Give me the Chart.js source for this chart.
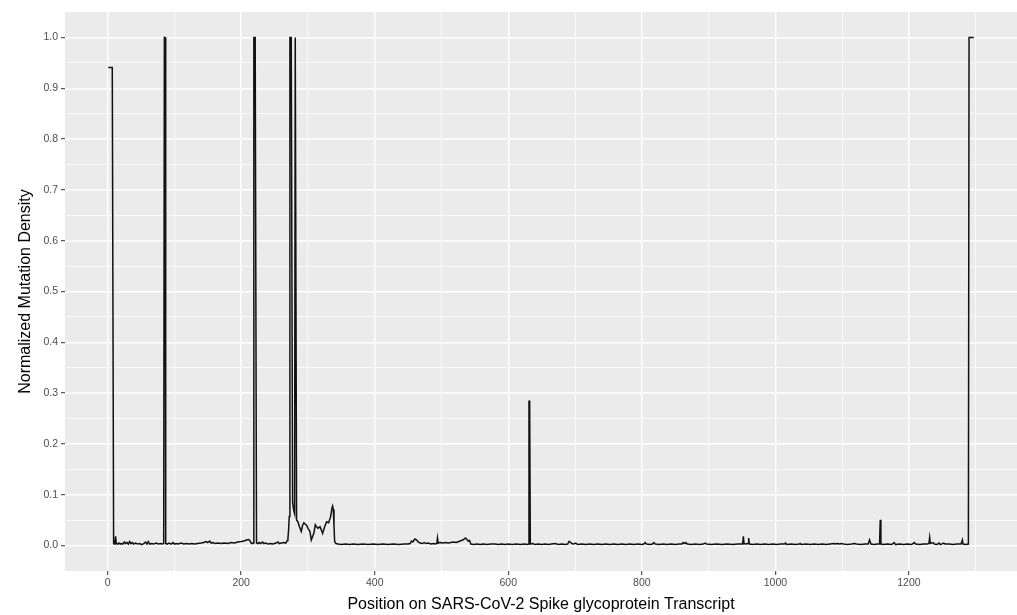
<!DOCTYPE html>
<html>
<head>
<meta charset="utf-8">
<script src="https://cdn.jsdelivr.net/npm/chart.js@4.4.1/dist/chart.umd.min.js"></script>
<style>
  html, body { margin: 0; padding: 0; background: #ffffff; }
  #wrap { width: 1017px; height: 615px; position: relative; }
</style>
</head>
<body>
<div id="wrap"><canvas id="c" width="1017" height="615"></canvas></div>
<script>
// ---- Data ----
const positions = [
  1,2,3,4,5,6,7,8,
  9,10,11,12,13,15,17,19,21,23,25,27,29,31,33,35,37,39,42,45,48,51,54,57,59,61,63,66,69,73,76,79,82,84,
  85,86,
  87,89,92,95,98,100,103,106,110,114,118,122,126,130,135,140,144,147,150,153,155,158,161,165,170,175,180,185,190,195,200,204,208,211,213,215,217,218,
  219,220,221,222,
  223,225,227,229,232,234,237,240,244,248,252,255,257,260,264,267,269,270,271,272,
  273,274,275,276,
  277,278,279,280,
  281,282,
  283,285,287,290,292,294,296,298,300,303,305,307,309,311,313,315,318,320,322,325,328,331,334,336,337,338,339,340,342,
  345,350,356,362,368,375,382,390,398,405,412,420,428,436,444,450,
  453,455,457,460,463,465,468,471,474,477,480,484,488,491,493,494,495,498,502,506,510,514,518,522,526,530,533,536,538,540,542,544,
  548,553,558,563,568,574,580,585,590,595,600,606,612,618,624,629,630,
  631,632,
  633,636,640,645,650,655,660,665,670,675,680,685,689,691,693,695,698,701,704,
  710,716,722,728,734,740,746,752,758,764,770,776,782,788,794,800,803,805,807,812,816,818,820,
  826,832,838,844,850,856,860,862,864,866,868,874,880,886,892,895,897,904,912,920,928,936,944,
  950,951,952,953,956,959,960,961,966,972,978,984,990,996,1002,1008,1014,1015,1017,1024,1030,1036,1037,1039,
  1046,1052,1058,1064,1070,1076,1082,1088,1090,1093,1096,1099,1102,1108,1114,1119,1121,1128,1134,1139,1141,1143,
  1148,1153,1156,1157,1158,1162,1168,1174,1178,1180,1186,1192,1198,1204,1208,1210,1216,1222,1228,1230,1231,1232,
  1236,1238,1242,1245,1247,1252,1254,1260,1266,1272,1278,1280,1281,1285,1289,
  1290,1297
];
const density = [
  0.941,0.941,0.941,0.941,0.941,0.941,0.941,0.941,
  0.004,0.003,0.005,0.018,0.004,0.003,0.005,0.003,0.004,0.003,0.007,0.004,0.006,0.003,0.008,0.004,0.006,0.003,0.005,0.003,0.004,0.002,0.004,0.007,0.003,0.008,0.003,0.004,0.003,0.005,0.003,0.004,0.003,0.004,
  1.0,1.0,
  0.004,0.003,0.005,0.003,0.006,0.003,0.004,0.003,0.005,0.003,0.004,0.003,0.004,0.003,0.004,0.005,0.006,0.008,0.006,0.009,0.005,0.006,0.004,0.005,0.004,0.005,0.004,0.006,0.005,0.007,0.008,0.009,0.011,0.012,0.010,0.005,0.004,0.005,
  1.0,1.0,1.0,1.0,
  0.005,0.004,0.006,0.004,0.007,0.004,0.005,0.003,0.004,0.003,0.005,0.007,0.004,0.005,0.006,0.005,0.010,0.013,0.030,0.057,
  1.0,1.0,1.0,1.0,
  0.085,0.075,0.068,0.063,
  1.0,1.0,
  0.050,0.047,0.038,0.028,0.040,0.045,0.042,0.040,0.034,0.028,0.011,0.018,0.025,0.041,0.037,0.034,0.037,0.031,0.024,0.037,0.047,0.045,0.057,0.074,0.078,0.071,0.040,0.008,0.004,
  0.003,0.002,0.003,0.002,0.003,0.002,0.003,0.002,0.003,0.002,0.003,0.002,0.003,0.002,0.003,0.003,
  0.004,0.009,0.007,0.013,0.011,0.007,0.005,0.004,0.006,0.004,0.005,0.003,0.004,0.003,0.004,0.015,0.005,0.006,0.005,0.006,0.005,0.006,0.007,0.006,0.008,0.010,0.012,0.015,0.012,0.009,0.010,0.003,
  0.002,0.003,0.002,0.003,0.002,0.003,0.003,0.002,0.003,0.002,0.003,0.002,0.003,0.002,0.003,0.002,0.003,
  0.284,0.284,
  0.003,0.004,0.002,0.003,0.002,0.003,0.002,0.003,0.004,0.002,0.003,0.002,0.003,0.008,0.007,0.004,0.003,0.005,0.002,
  0.003,0.002,0.003,0.002,0.003,0.002,0.003,0.002,0.003,0.002,0.003,0.002,0.003,0.002,0.003,0.002,0.003,0.006,0.003,0.002,0.003,0.006,0.003,
  0.002,0.003,0.002,0.003,0.002,0.003,0.003,0.006,0.004,0.006,0.003,0.002,0.003,0.002,0.003,0.005,0.003,0.002,0.003,0.002,0.003,0.002,0.003,
  0.003,0.004,0.018,0.004,0.003,0.004,0.015,0.003,0.002,0.003,0.002,0.003,0.002,0.003,0.002,0.003,0.003,0.005,0.002,0.003,0.002,0.003,0.004,0.002,
  0.003,0.002,0.003,0.002,0.003,0.002,0.003,0.004,0.003,0.004,0.003,0.004,0.003,0.002,0.003,0.004,0.003,0.002,0.003,0.003,0.011,0.003,
  0.002,0.003,0.003,0.051,0.003,0.002,0.003,0.002,0.006,0.002,0.003,0.002,0.003,0.002,0.006,0.003,0.002,0.003,0.003,0.005,0.016,0.004,
  0.006,0.003,0.002,0.005,0.002,0.005,0.003,0.003,0.002,0.003,0.003,0.011,0.003,0.002,0.003,
  1.0,1.0
];
const xMajorTicks = [0, 200, 400, 600, 800, 1000, 1200];
const xMinorTicks = [100, 300, 500, 700, 900, 1100, 1300];
const yMajorTicks = [0, 0.1, 0.2, 0.3, 0.4, 0.5, 0.6, 0.7, 0.8, 0.9, 1.0];
const yMinorTicks = [0.05, 0.15, 0.25, 0.35, 0.45, 0.55, 0.65, 0.75, 0.85, 0.95];
const xTitle = 'Position on SARS-CoV-2 Spike glycoprotein Transcript';
const yTitle = 'Normalized Mutation Density';

const points = positions.map((p, i) => ({ x: p, y: density[i] }));

function isMajor(list, v) {
  return list.some(t => Math.abs(t - v) < 1e-9);
}

const panelBg = {
  id: 'panelBg',
  beforeDraw(chart) {
    const { ctx, chartArea: a } = chart;
    ctx.save();
    ctx.fillStyle = '#ffffff';
    ctx.fillRect(0, 0, chart.width, chart.height);
    ctx.fillStyle = '#EBEBEB';
    ctx.fillRect(a.left, a.top, a.right - a.left, a.bottom - a.top);
    ctx.restore();
  }
};

const tickFont = { family: '"Liberation Sans", Arial, sans-serif', size: 10.5 };
const titleFont = { family: '"Liberation Sans", Arial, sans-serif', size: 16 };

new Chart(document.getElementById('c'), {
  type: 'line',
  data: {
    datasets: [{
      data: points,
      borderColor: '#111111',
      borderWidth: 1.5,
      pointRadius: 0,
      tension: 0,
      fill: false
    }]
  },
  options: {
    responsive: false,
    animation: false,
    events: [],
    layout: { padding: { top: 12, right: 0, bottom: 0, left: 0 } },
    plugins: { legend: { display: false }, tooltip: { enabled: false } },
    scales: {
      x: {
        type: 'linear',
        min: -63.8,
        max: 1361.8,
        afterBuildTicks(scale) {
          scale.ticks = xMajorTicks.concat(xMinorTicks).sort((a, b) => a - b).map(v => ({ value: v }));
        },
        afterFit(scale) { scale.height = 44; },
        border: { display: false },
        grid: {
          color: '#ffffff',
          lineWidth: c => isMajor(xMajorTicks, c.tick.value) ? 1.4 : 0.7,
          tickColor: c => isMajor(xMajorTicks, c.tick.value) ? '#333333' : 'rgba(0,0,0,0)',
          tickWidth: 1,
          tickLength: 4,
          drawTicks: true
        },
        ticks: {
          autoSkip: false,
          maxRotation: 0,
          padding: 2,
          color: '#4D4D4D',
          font: tickFont,
          callback: v => isMajor(xMajorTicks, v) ? String(v) : ''
        },
        title: {
          display: true,
          text: xTitle,
          color: '#000000',
          font: Object.assign({ lineHeight: 1.2 }, titleFont),
          padding: { top: 0, bottom: 0.5 }
        }
      },
      y: {
        type: 'linear',
        min: -0.05,
        max: 1.05,
        afterBuildTicks(scale) {
          scale.ticks = yMajorTicks.concat(yMinorTicks).sort((a, b) => a - b).map(v => ({ value: v }));
        },
        afterFit(scale) { scale.width = 65; },
        border: { display: false },
        grid: {
          color: '#ffffff',
          lineWidth: c => isMajor(yMajorTicks, c.tick.value) ? 1.4 : 0.7,
          tickColor: c => isMajor(yMajorTicks, c.tick.value) ? '#333333' : 'rgba(0,0,0,0)',
          tickWidth: 1,
          tickLength: 4,
          drawTicks: true
        },
        ticks: {
          autoSkip: false,
          padding: 3,
          color: '#4D4D4D',
          font: tickFont,
          callback: v => isMajor(yMajorTicks, v) ? Number(v).toFixed(1) : ''
        },
        title: {
          display: true,
          text: yTitle,
          color: '#000000',
          font: Object.assign({ lineHeight: 1.2 }, titleFont),
          padding: { top: 15.5, bottom: 0 }
        }
      }
    }
  },
  plugins: [panelBg]
});
</script>
</body>
</html>
